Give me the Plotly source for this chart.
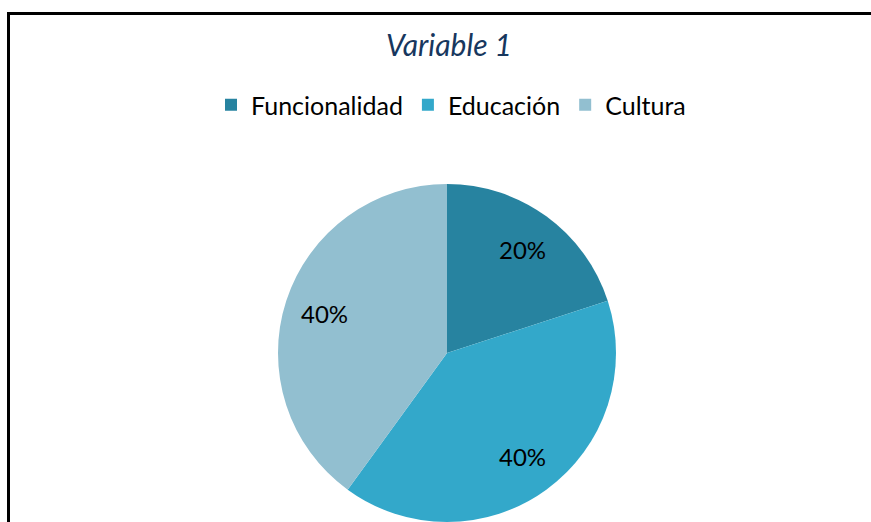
import math
import plotly.graph_objects as go

labels = ["Funcionalidad", "Educación", "Cultura"]
values = [20, 40, 40]
colors = ["#2783A0", "#33A8CA", "#92BFD0"]
title_text = "Variable 1"

W, H = 871, 522
cx_px, r_px = 447, 169
dom_x = [278 / W, 616 / W]
dom_y = [0, 1 - 184 / H]
cy_px = H - (dom_y[0] + dom_y[1]) / 2 * H

fig = go.Figure(go.Pie(
    labels=labels,
    values=values,
    sort=False,
    direction="clockwise",
    rotation=0,
    marker=dict(colors=colors, line=dict(width=0)),
    textinfo="none",
    domain=dict(x=dom_x, y=dom_y),
    hoverinfo="label+percent",
))

# percentage labels placed along each slice's mid-angle (computed from the data)
total = sum(values)
annotations = []
cum = 0
for v in values:
    mid = (cum + v / 2) / total * 2 * math.pi
    cum += v
    px = cx_px + 0.76 * r_px * math.sin(mid)
    py = cy_px - 0.76 * r_px * math.cos(mid)
    annotations.append(dict(
        x=px / W, y=1 - py / H, xref="paper", yref="paper",
        text=f"{round(v / total * 100)}%", showarrow=False,
        font=dict(family="Lato", size=24, color="black"),
        xanchor="center", yanchor="middle",
    ))

fig.update_layout(
    width=W, height=H,
    margin=dict(l=0, r=0, t=0, b=0),
    paper_bgcolor="white",
    title=dict(text=title_text, x=449 / W, xanchor="center", y=1 - 45 / H, yanchor="middle",
               font=dict(family="Lato", size=30, color="#17375E", style="italic")),
    legend=dict(orientation="h", x=451 / W, xanchor="center", y=1 - 105 / H, yanchor="middle",
                font=dict(family="Lato", size=25, color="black"),
                itemwidth=30, traceorder="normal"),
    annotations=annotations,
    shapes=[
        dict(type="line", xref="paper", yref="paper", x0=8.5 / W, x1=1.01, y0=1 - 13.5 / H, y1=1 - 13.5 / H,
             line=dict(color="black", width=3)),
        dict(type="line", xref="paper", yref="paper", x0=8.5 / W, x1=8.5 / W, y0=1 - 12 / H, y1=-0.02,
             line=dict(color="black", width=3)),
    ],
)

fig.write_html("out.html", config={"displayModeBar": False},
               post_script="document.body.style.margin='0';")
